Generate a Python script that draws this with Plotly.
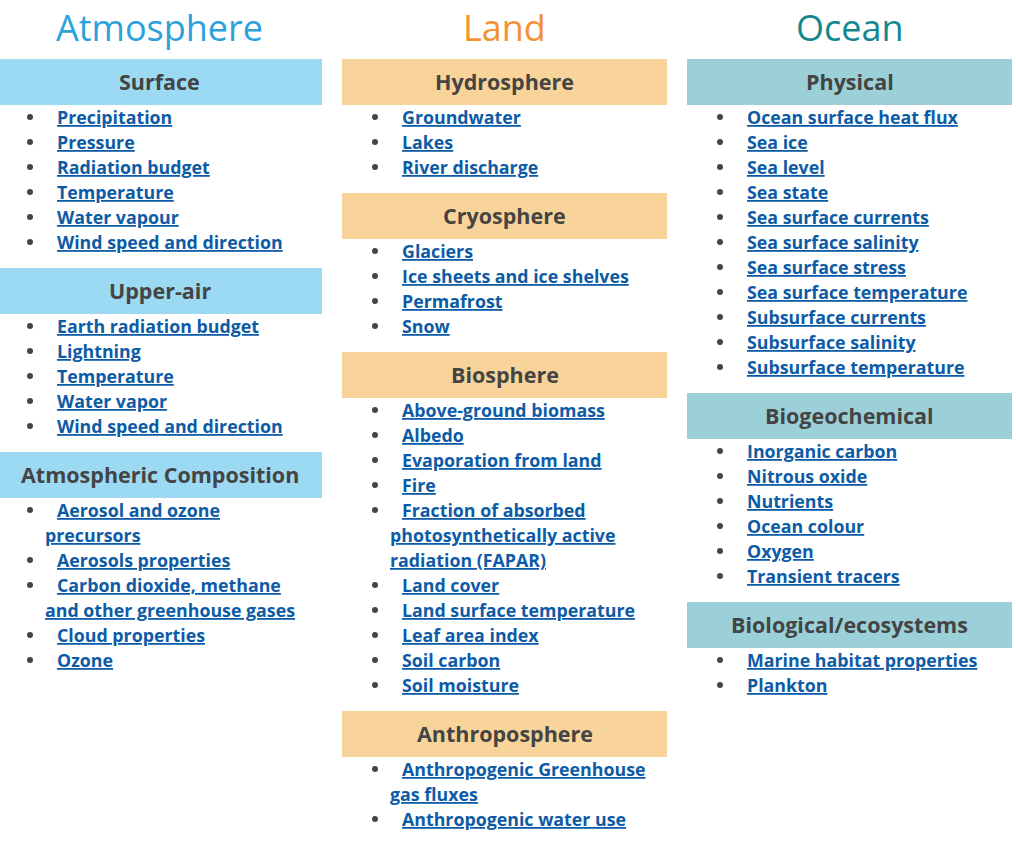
import plotly.graph_objects as go

# column titles and colours
columns = ["Atmosphere", "Land", "Ocean"]
title_colors = ["#2ba2dc", "#f39232", "#13878f"]
box_colors = ["#9cd9f3", "#f9d49a", "#9bd0d8"]

# groups per column, "|" marks where the line wraps in the picture
atmosphere = {
    "Surface": ["Precipitation", "Pressure", "Radiation budget", "Temperature",
                "Water vapour", "Wind speed and direction"],
    "Upper-air": ["Earth radiation budget", "Lightning", "Temperature",
                  "Water vapor", "Wind speed and direction"],
    "Atmospheric Composition": ["Aerosol and ozone|precursors", "Aerosols properties",
                                "Carbon dioxide, methane|and other greenhouse gases",
                                "Cloud properties", "Ozone"],
}
land = {
    "Hydrosphere": ["Groundwater", "Lakes", "River discharge"],
    "Cryosphere": ["Glaciers", "Ice sheets and ice shelves", "Permafrost", "Snow"],
    "Biosphere": ["Above-ground biomass", "Albedo", "Evaporation from land", "Fire",
                  "Fraction of absorbed|photosynthetically active|radiation (FAPAR)",
                  "Land cover", "Land surface temperature", "Leaf area index",
                  "Soil carbon", "Soil moisture"],
    "Anthroposphere": ["Anthropogenic Greenhouse|gas fluxes", "Anthropogenic water use"],
}
ocean = {
    "Physical": ["Ocean surface heat flux", "Sea ice", "Sea level", "Sea state",
                 "Sea surface currents", "Sea surface salinity", "Sea surface stress",
                 "Sea surface temperature", "Subsurface currents", "Subsurface salinity",
                 "Subsurface temperature"],
    "Biogeochemical": ["Inorganic carbon", "Nitrous oxide", "Nutrients", "Ocean colour",
                       "Oxygen", "Transient tracers"],
    "Biological/ecosystems": ["Marine habitat properties", "Plankton"],
}
groups = [atmosphere, land, ocean]

W, H = 1016, 841
col_x = [(-3, 322), (342, 667), (687, 1012)]
LINE = 25
BOX_H = 46
TEXT = "#444444"
LINK = "#0d5ba6"
FONT = "Open Sans"

fig = go.Figure()
shapes = []
annotations = []
bullet_x, bullet_y = [], []

for ci, name in enumerate(columns):
    x0, x1 = col_x[ci]
    annotations.append(dict(x=(x0 + x1) / 2, y=27, text=name, showarrow=False,
                            font=dict(family=FONT, size=36, color=title_colors[ci])))
    top = 59
    for head, items in groups[ci].items():
        shapes.append(dict(type="rect", x0=x0, x1=x1, y0=top, y1=top + BOX_H,
                           fillcolor=box_colors[ci], line_width=0, layer="below"))
        annotations.append(dict(x=(x0 + x1) / 2, y=top + BOX_H / 2 - 1, text=head,
                                showarrow=False,
                                font=dict(family=FONT, size=21.5, color=TEXT, weight=700)))
        y = top + BOX_H + 12
        for item in items:
            bullet_x.append(x0 + 33)
            bullet_y.append(y)
            for li, part in enumerate(item.split("|")):
                annotations.append(dict(x=x0 + (58 if li == 0 else 46), y=y,
                                        text="<u>" + part + "</u>", showarrow=False,
                                        xanchor="left",
                                        font=dict(family=FONT, size=17.8, color=LINK,
                                                  weight=700)))
                y += LINE
        top = y - LINE + 26

fig.add_trace(go.Scatter(x=bullet_x, y=bullet_y, mode="markers", hoverinfo="skip",
                         marker=dict(size=6, color=TEXT)))

fig.update_layout(
    width=W, height=H, autosize=False,
    margin=dict(l=0, r=0, t=0, b=0),
    paper_bgcolor="white", plot_bgcolor="white",
    showlegend=False,
    shapes=shapes, annotations=annotations,
    xaxis=dict(range=[0, W], visible=False, fixedrange=True),
    yaxis=dict(range=[H, 0], visible=False, fixedrange=True),
)

# drop the page's default body margin so the figure sits at the window corner
fig.write_html("out.html", config={"displayModeBar": False},
               post_script="document.body.style.margin='0px';")
